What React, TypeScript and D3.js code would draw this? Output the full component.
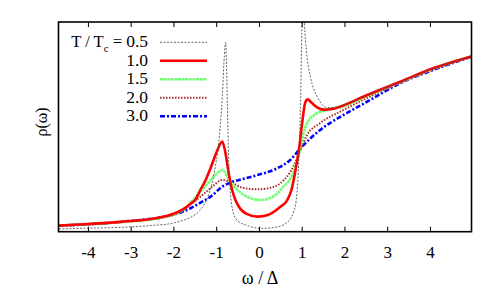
import React from 'react';
import * as d3 from 'd3';

// omega / Delta positions and rho(omega) in arbitrary units (0..100 = frame height)
const t05 = [
  [-4.69, 1.3], [-4.0, 1.7], [-3.2, 2.1], [-2.5, 3.0], [-2.04, 4.0], [-1.8, 5.3], [-1.6, 7.0],
  [-1.4, 10.0], [-1.2, 17.0], [-1.05, 29.0], [-0.95, 43.0], [-0.87, 64.0], [-0.82, 84.0],
  [-0.79, 90.3], [-0.77, 80.0], [-0.75, 60.0], [-0.72, 35.0], [-0.69, 21.5], [-0.61, 9.0],
  [-0.5, 5.0], [-0.29, 3.0], [0.02, 1.6], [0.3, 1.9], [0.49, 2.6], [0.65, 4.5], [0.72, 6.0],
  [0.8, 9.5], [0.86, 15.0], [0.9, 25.0], [0.94, 45.0], [0.97, 70.0], [0.99, 95.0], [1.02, 115.0],
  [1.05, 100.0], [1.1, 86.0], [1.19, 74.0], [1.27, 68.0], [1.35, 64.4], [1.45, 61.0],
  [1.58, 59.2], [1.75, 59.3], [1.96, 60.4], [2.52, 65.2], [3.29, 71.5], [4.06, 77.9], [4.95, 83.6]
];
const t10 = [
  [-4.69, 2.9], [-4.0, 3.7], [-3.2, 4.8], [-2.43, 6.4], [-2.04, 8.3], [-1.8, 10.5], [-1.6, 13.5],
  [-1.49, 15.5], [-1.38, 20.0], [-1.25, 25.0], [-1.14, 30.5], [-1.0, 38.0], [-0.87, 43.0],
  [-0.8, 38.0], [-0.72, 28.0], [-0.64, 20.0], [-0.56, 15.0], [-0.45, 11.0], [-0.3, 8.5],
  [-0.05, 7.2], [0.2, 8.0], [0.49, 11.9], [0.65, 15.0], [0.75, 20.0], [0.85, 30.0], [0.93, 40.0],
  [1.0, 52.0], [1.07, 61.5], [1.13, 63.1], [1.22, 61.5], [1.35, 59.3], [1.5, 58.2], [1.7, 58.5],
  [1.96, 60.2], [2.52, 65.2], [3.29, 71.5], [4.06, 77.9], [4.95, 83.6]
];
const t15 = [
  [-4.69, 2.9], [-4.0, 3.6], [-3.2, 4.6], [-2.43, 6.2], [-2.04, 8.0], [-1.8, 10.2], [-1.61, 13.8],
  [-1.38, 19.1], [-1.14, 24.7], [-1.0, 27.8], [-0.87, 29.4], [-0.68, 23.8], [-0.4, 18.0],
  [0.02, 15.1], [0.3, 16.5], [0.56, 21.5], [0.79, 28.0], [0.93, 37.5], [1.02, 46.0],
  [1.11, 51.7], [1.35, 56.5], [1.58, 58.0], [1.96, 59.8], [2.52, 64.8], [3.29, 71.3],
  [4.06, 77.7], [4.95, 83.5]
];
const t20 = [
  [-4.69, 2.9], [-3.2, 4.6], [-2.04, 7.8], [-1.8, 10.0], [-1.61, 13.2], [-1.38, 16.7],
  [-1.14, 20.8], [-0.87, 24.7], [-0.68, 23.6], [-0.4, 21.0], [-0.05, 20.2], [0.3, 21.2],
  [0.49, 23.1], [0.79, 31.0], [0.96, 39.0], [1.11, 46.0], [1.42, 51.8], [1.96, 58.0],
  [2.52, 63.8], [3.29, 71.0], [4.06, 77.4], [4.95, 83.4]
];
const t30 = [
  [-4.69, 2.9], [-3.2, 4.8], [-2.04, 8.0], [-1.8, 9.5], [-1.61, 11.2], [-1.34, 14.3],
  [-1.14, 16.7], [-0.87, 21.5], [-0.68, 23.4], [-0.3, 25.6], [-0.05, 27.0], [0.41, 30.2],
  [0.72, 34.2], [0.96, 39.8], [1.42, 48.5], [1.96, 55.6], [2.52, 62.0], [3.29, 70.8],
  [4.06, 77.1], [4.95, 83.4]
];

const seriesLabels = ['0.5', '1.0', '1.5', '2.0', '3.0'];
const xTicks = [-4, -3, -2, -1, 0, 1, 2, 3, 4];

const series = [
  { label: seriesLabels[0], data: t05, color: '#555555', width: 0.9, dash: '2,1.5' },
  { label: seriesLabels[1], data: t10, color: '#ff0000', width: 2.6, dash: null },
  { label: seriesLabels[2], data: t15, color: '#70ff70', width: 2.6, dash: '3,0.6' },
  { label: seriesLabels[3], data: t20, color: '#a52a2a', width: 2, dash: '1.5,1.5' },
  { label: seriesLabels[4], data: t30, color: '#0000ff', width: 2.6, dash: '5,2,2,2' }
];

const W = 491;
const H = 291;
const m = { left: 58.5, top: 22, right: 471.5, bottom: 231.7 };
const FONT = "'Liberation Serif', 'Times New Roman', Times, serif";

const x = d3.scaleLinear().domain([-4.7, 4.96]).range([m.left, m.right]);
const y = d3.scaleLinear().domain([0, 100]).range([m.bottom, m.top]);
const line = d3.line()
  .x((d) => x(d[0]))
  .y((d) => y(d[1]))
  .curve(d3.curveMonotoneX);

const App = () => {
  const cy0 = 42.3;
  return (
    <div style={{ position: 'absolute', left: 0, top: 0 }}>
      <svg width={W} height={H} style={{ display: 'block', fontFamily: FONT }}>
        <rect width={W} height={H} fill="#fff" />
        <clipPath id="plot-clip">
          <rect x={m.left} y={m.top} width={m.right - m.left} height={m.bottom - m.top} />
        </clipPath>
        <g clipPath="url(#plot-clip)">
          {[...series].reverse().map((s) => (
            <path
              key={s.label}
              d={line(s.data)}
              fill="none"
              stroke={s.color}
              strokeWidth={s.width}
              strokeDasharray={s.dash || undefined}
              strokeLinejoin="round"
            />
          ))}
        </g>
        <rect
          x={m.left} y={m.top} width={m.right - m.left} height={m.bottom - m.top}
          fill="none" stroke="#000" strokeWidth={1.6}
        />
        {xTicks.map((t) => (
          <g key={t}>
            <line x1={x(t)} x2={x(t)} y1={m.bottom} y2={m.bottom - 5} stroke="#000" />
            <line x1={x(t)} x2={x(t)} y1={m.top} y2={m.top + 5} stroke="#000" />
            <text x={x(t)} y={257.5} textAnchor="middle" style={{ fontFamily: FONT, fontSize: '17px' }}>
              {t}
            </text>
          </g>
        ))}
        <text x={(m.left + m.right) / 2 - 5} y={283.5} textAnchor="middle" style={{ fontFamily: FONT, fontSize: '18px' }}>
          ω / Δ
        </text>
        <text transform="translate(47,122) rotate(-90)" textAnchor="middle" style={{ fontFamily: FONT, fontSize: '16px' }}>
          ρ(ω)
        </text>
        {series.map((s, i) => {
          const cy = cy0 + i * 18.5;
          return (
            <g key={'leg' + s.label}>
              <text x={148} y={cy + 4.8} textAnchor="end" style={{ fontFamily: FONT, fontSize: '17.5px' }}>
                {i === 0 ? (
                  <>
                    <tspan style={{ fontSize: '16.5px' }}>T / T</tspan>
                    <tspan dy={4.5} style={{ fontSize: '11px' }}>c</tspan>
                    <tspan dy={-4.5} style={{ fontSize: '16.5px' }}>{' = '}</tspan>
                    <tspan>{s.label}</tspan>
                  </>
                ) : s.label}
              </text>
              <line
                x1={160} x2={207} y1={cy} y2={cy}
                stroke={s.color} strokeWidth={s.width}
                strokeDasharray={s.dash || undefined}
              />
            </g>
          );
        })}
      </svg>
    </div>
  );
};

export default App;
